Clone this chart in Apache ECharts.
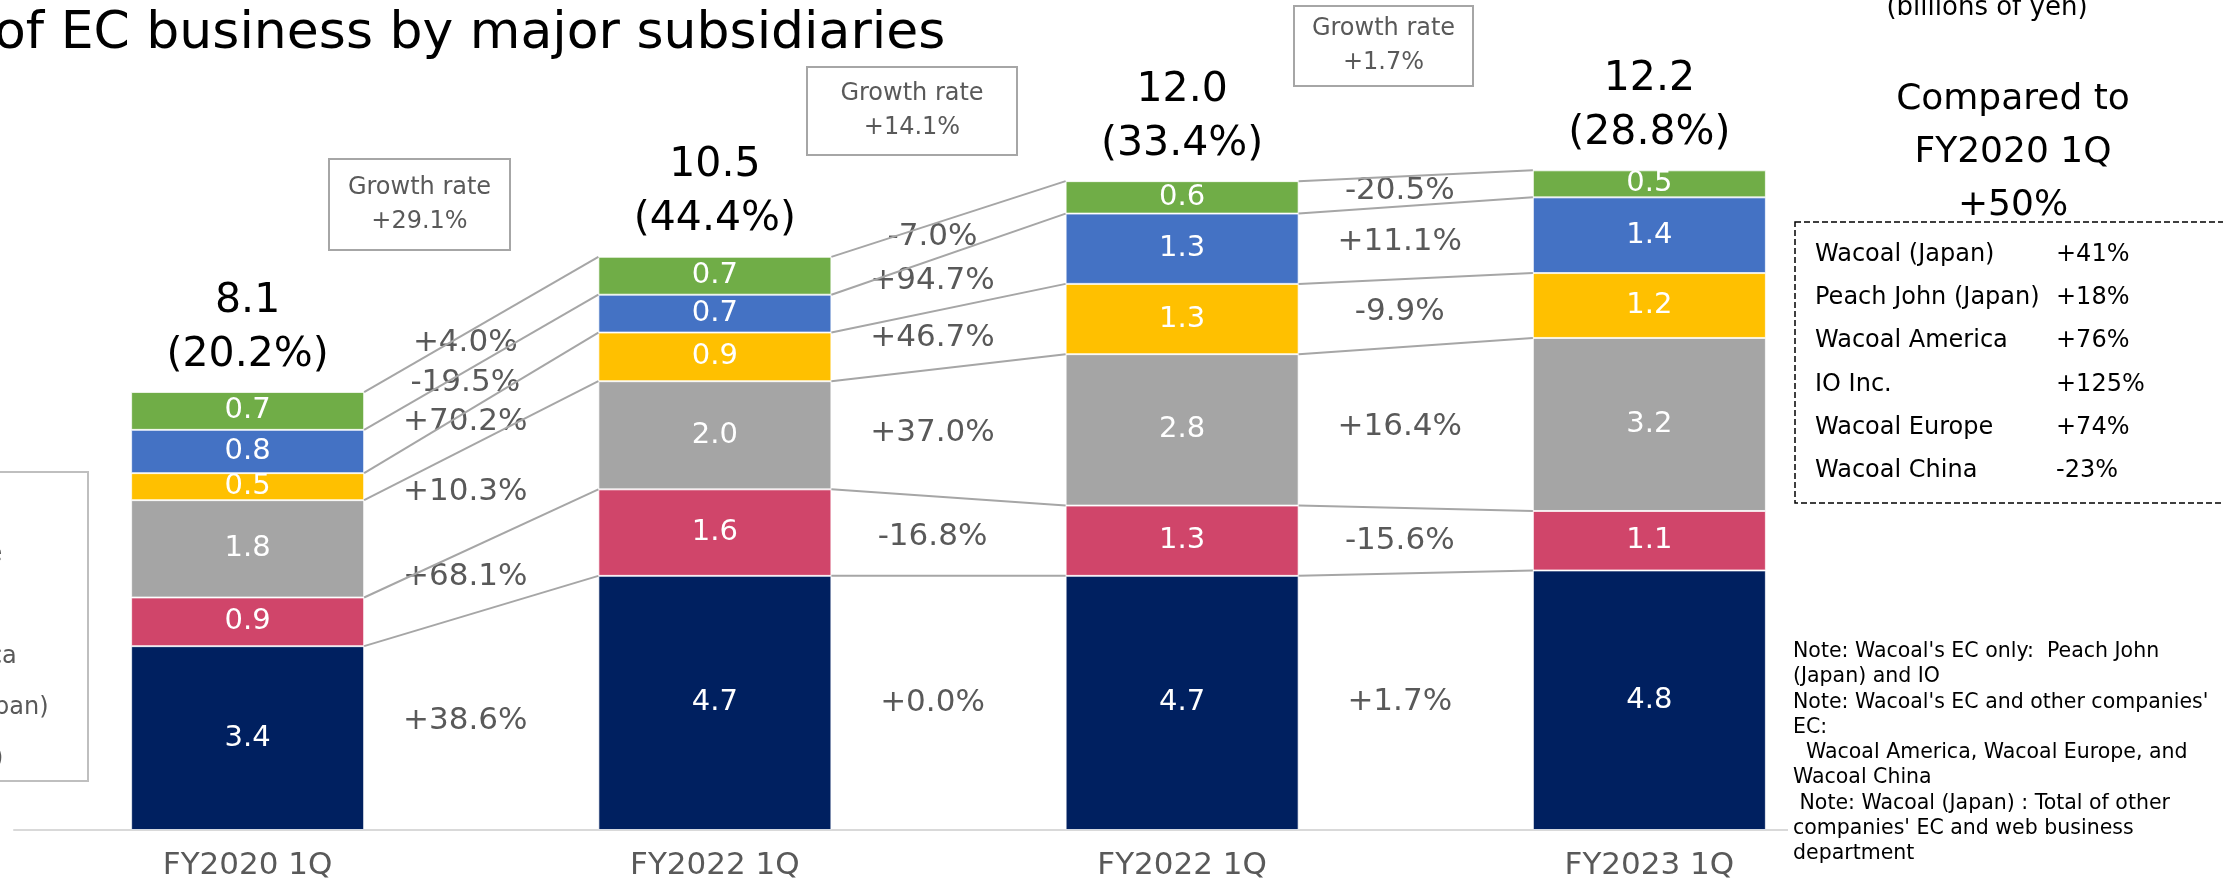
<!DOCTYPE html>
<html>
<head>
<meta charset="utf-8">
<script src="https://cdn.jsdelivr.net/npm/echarts@6/dist/echarts.min.js"></script>
<style>
html,body{margin:0;padding:0;background:#fff;}
#chart{width:2223px;height:882px;}
</style>
</head>
<body>
<div id="chart"></div>
<script>
// ---------- data ----------
const categories = ['FY2020 1Q', 'FY2022 1Q', 'FY2022 1Q', 'FY2023 1Q'];
const seriesNames = ['Wacoal (Japan)', 'Peach John (Japan)', 'Wacoal America', 'IO Inc.', 'Wacoal Europe', 'Wacoal China'];
const wacoalJapan   = [3.4, 4.7, 4.7, 4.8];
const peachJohn     = [0.9, 1.6, 1.3, 1.1];
const wacoalAmerica = [1.8, 2.0, 2.8, 3.2];
const ioInc         = [0.5, 0.9, 1.3, 1.2];
const wacoalEurope  = [0.8, 0.7, 1.3, 1.4];
const wacoalChina   = [0.7, 0.7, 0.6, 0.5];
const totalLabels   = ['8.1', '10.5', '12.0', '12.2'];
const shareLabels   = ['(20.2%)', '(44.4%)', '(33.4%)', '(28.8%)'];
// growth between consecutive bars, per subsidiary
const growthWacoalJapan   = ['+38.6%', '+0.0%', '+1.7%'];
const growthPeachJohn     = ['+68.1%', '-16.8%', '-15.6%'];
const growthWacoalAmerica = ['+10.3%', '+37.0%', '+16.4%'];
const growthIoInc         = ['+70.2%', '+46.7%', '-9.9%'];
const growthWacoalEurope  = ['-19.5%', '+94.7%', '+11.1%'];
const growthWacoalChina   = ['+4.0%', '-7.0%', '-20.5%'];
const overallGrowth = ['+29.1%', '+14.1%', '+1.7%'];
const compareNames  = ['Wacoal (Japan)', 'Peach John (Japan)', 'Wacoal America', 'IO Inc.', 'Wacoal Europe', 'Wacoal China'];
const compareValues = ['+41%', '+18%', '+76%', '+125%', '+74%', '-23%'];
const compareTitle  = 'Compared to\nFY2020 1Q\n+50%';
const titleText = 'of EC business by major subsidiaries';
const unitText = '(billions of yen)';
const noteLines = [
  "Note: Wacoal's EC only:  Peach John",
  "(Japan) and IO",
  "Note: Wacoal's EC and other companies'",
  "EC:",
  "  Wacoal America, Wacoal Europe, and",
  "Wacoal China",
  " Note: Wacoal (Japan) : Total of other",
  "companies' EC and web business",
  "department"
];

// ---------- styling ----------
const FONT = "'DejaVu Sans', 'Verdana', sans-serif";
const colors = ['#002060', '#D0456A', '#A5A5A5', '#FFC000', '#4472C4', '#70AD47'];
const stackValues = [wacoalJapan, peachJohn, wacoalAmerica, ioInc, wacoalEurope, wacoalChina];
const growthValues = [growthWacoalJapan, growthPeachJohn, growthWacoalAmerica, growthIoInc, growthWacoalEurope, growthWacoalChina];
const BAR_W = 233;

function cumAt(i, k) { // sum of first k series at category i
  let s = 0;
  for (let j = 0; j < k; j++) s += stackValues[j][i];
  return s;
}

const chart = echarts.init(document.getElementById('chart'), null, {renderer: 'canvas'});

const barSeries = seriesNames.map((name, k) => ({
  name: name,
  type: 'bar',
  stack: 'ec',
  barWidth: BAR_W,
  data: stackValues[k],
  itemStyle: {color: colors[k], borderColor: 'rgba(255,255,255,0.7)', borderWidth: 1},
  label: {
    show: true, position: 'inside', color: '#fff',
    fontFamily: FONT, fontSize: 29,
    formatter: p => p.value.toFixed(1)
  },
  z: 2
}));

const gapData = [0, 1, 2].map(i => [i, 0]);

const connectorSeries = {
  type: 'custom',
  data: gapData,
  encode: {x: 0, y: 1},
  z: 5,
  silent: true,
  renderItem: function (params, api) {
    const i = params.dataIndex;
    const children = [];
    for (let k = 1; k <= stackValues.length; k++) {
      const a = api.coord([i, cumAt(i, k)]);
      const b = api.coord([i + 1, cumAt(i + 1, k)]);
      children.push({
        type: 'line',
        shape: {x1: a[0] + BAR_W / 2, y1: a[1], x2: b[0] - BAR_W / 2, y2: b[1]},
        style: {stroke: '#A6A6A6', lineWidth: 2}
      });
    }
    for (let k = 0; k < stackValues.length; k++) {
      const m1 = cumAt(i, k) + stackValues[k][i] / 2;
      const m2 = cumAt(i + 1, k) + stackValues[k][i + 1] / 2;
      const a = api.coord([i, m1]);
      const b = api.coord([i + 1, m2]);
      children.push({
        type: 'text',
        x: (a[0] + b[0]) / 2 - 16,
        y: (a[1] + b[1]) / 2,
        z2: -1,
        style: {
          text: growthValues[k][i], fill: '#595959', font: '31px ' + FONT,
          align: 'center', verticalAlign: 'middle'
        }
      });
    }
    return {type: 'group', children: children};
  }
};

const totalSeries = {
  type: 'custom',
  data: categories.map((c, i) => [i, cumAt(i, stackValues.length)]),
  encode: {x: 0, y: 1},
  z: 6,
  silent: true,
  renderItem: function (params, api) {
    const i = params.dataIndex;
    const p = api.coord([i, api.value(1)]);
    return {
      type: 'text',
      x: p[0], y: p[1] - 10,
      style: {
        text: totalLabels[i] + '\n' + shareLabels[i],
        fill: '#000', font: '41px ' + FONT, lineHeight: 54,
        align: 'center', verticalAlign: 'bottom'
      }
    };
  }
};

// ---------- annotation graphics ----------
const growthBoxes = [
  {x: 329, y: 159, w: 181, h: 91},
  {x: 807, y: 67, w: 210, h: 88},
  {x: 1294, y: 6, w: 179, h: 80}
];
const graphics = [];
// title
graphics.push({type: 'text', x: -6, y: 34, z: 20,
  style: {text: titleText, font: '52px ' + FONT, fill: '#000', verticalAlign: 'middle'}});
// unit
graphics.push({type: 'text', x: 1987, y: 8, z: 20,
  style: {text: unitText, font: '26px ' + FONT, fill: '#000', align: 'center', verticalAlign: 'middle'}});
// compared to
graphics.push({type: 'text', x: 2013, y: 153, z: 20,
  style: {text: compareTitle, font: '36px ' + FONT, fill: '#000', lineHeight: 53, align: 'center', verticalAlign: 'middle'}});
// dashed box
graphics.push({type: 'rect', z: 20, shape: {x: 1795, y: 222, width: 500, height: 281},
  style: {fill: 'none', stroke: '#000', lineWidth: 1.5, lineDash: [6, 3]}});
compareNames.forEach((n, k) => {
  const cy = 254.6 + 43.3 * k;
  graphics.push({type: 'text', x: 1815, y: cy, z: 21,
    style: {text: n, font: '24px ' + FONT, fill: '#000', verticalAlign: 'middle'}});
  graphics.push({type: 'text', x: 2056, y: cy, z: 21,
    style: {text: compareValues[k], font: '24px ' + FONT, fill: '#000', verticalAlign: 'middle'}});
});
// notes (white backing hides the axis line under the text box)
graphics.push({type: 'rect', z: 30, shape: {x: 1788, y: 630, width: 440, height: 252},
  style: {fill: '#fff', stroke: 'none'}});
graphics.push({type: 'text', x: 1793, y: 639, z: 31,
  style: {text: noteLines.join('\n'), font: '20.5px ' + FONT, fill: '#000', lineHeight: 25.3, verticalAlign: 'top'}});
// growth rate boxes
overallGrowth.forEach((g, i) => {
  const b = growthBoxes[i];
  graphics.push({type: 'rect', z: 20, shape: {x: b.x, y: b.y, width: b.w, height: b.h},
    style: {fill: '#fff', stroke: '#A6A6A6', lineWidth: 2}});
  graphics.push({type: 'text', x: b.x + b.w / 2, y: b.y + b.h / 2, z: 21,
    style: {text: 'Growth rate\n' + g, font: '24px ' + FONT, fill: '#595959', lineHeight: 34, align: 'center', verticalAlign: 'middle'}});
});
// legend frame
graphics.push({type: 'rect', z: 20, shape: {x: -6, y: 472, width: 94, height: 309},
  style: {fill: 'none', stroke: '#BFBFBF', lineWidth: 2}});

chart.setOption({
  animation: false,
  backgroundColor: '#fff',
  textStyle: {fontFamily: FONT},
  grid: {left: 14, right: 340, top: 73, bottom: 52, containLabel: false},
  legend: {
    orient: 'vertical', left: -212, top: 486,
    itemWidth: 25, itemHeight: 14, itemGap: 25, icon: 'rect',
    data: seriesNames.slice().reverse(),
    textStyle: {fontFamily: FONT, fontSize: 24, color: '#595959', lineHeight: 26}
  },
  xAxis: {
    type: 'category',
    data: categories,
    axisLine: {lineStyle: {color: '#D9D9D9', width: 2}},
    axisTick: {show: false},
    axisLabel: {color: '#595959', fontSize: 31, fontFamily: FONT, margin: 20}
  },
  yAxis: {type: 'value', min: 0, max: 14, show: false, splitLine: {show: false}},
  series: barSeries.concat([connectorSeries, totalSeries]),
  graphic: graphics
});
</script>
</body>
</html>
